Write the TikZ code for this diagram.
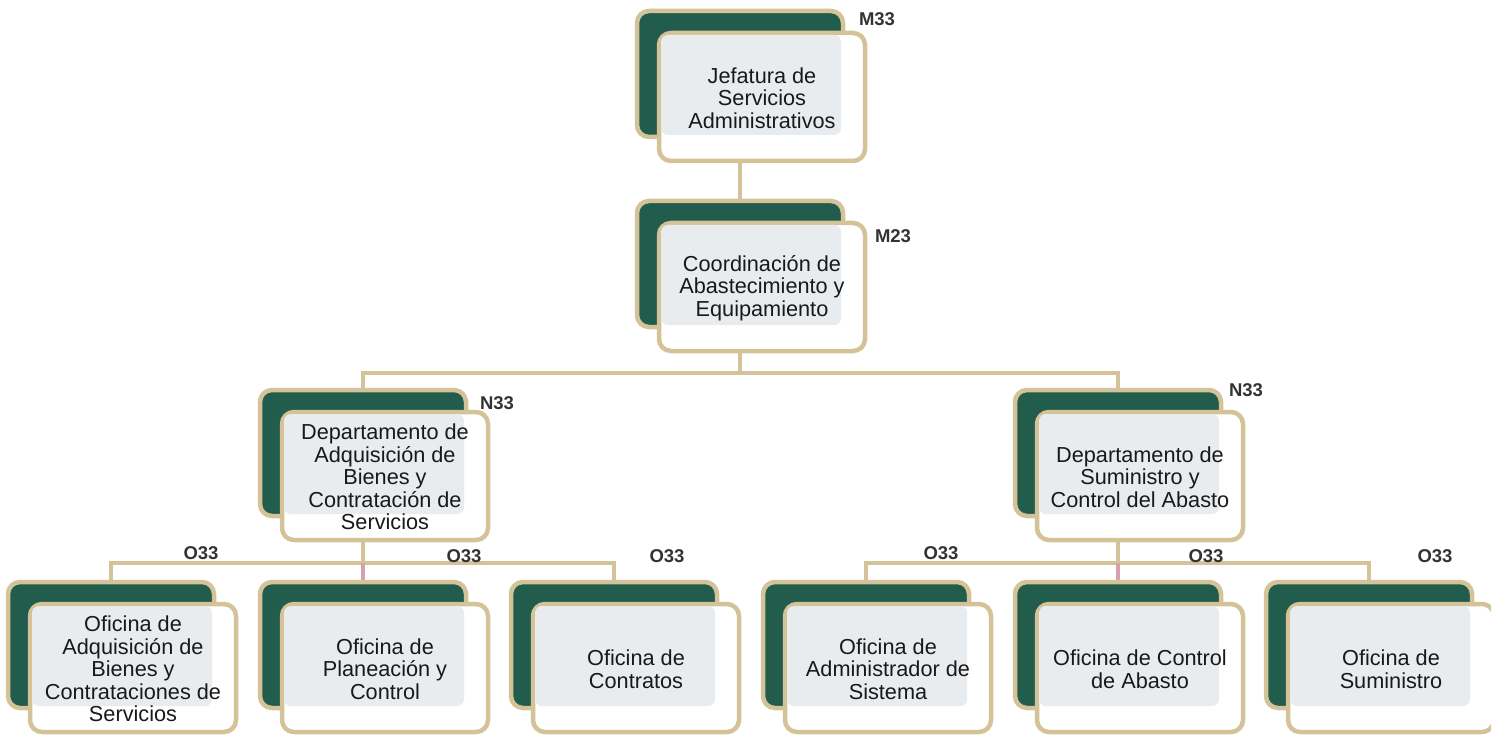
\documentclass[tikz,border=0pt]{standalone}
\usepackage{fontspec}
\setmainfont{Liberation Sans}
\usetikzlibrary{calc}
\definecolor{dkgreen}{RGB}{34,92,76}
\definecolor{tan}{RGB}{212,195,152}
\definecolor{pale}{RGB}{233,236,239}
\definecolor{pinkish}{RGB}{216,160,168}
\definecolor{lbl}{RGB}{51,51,51}
\pgfdeclarelayer{background}
\pgfsetlayers{background,main}
\tikzset{
  backbox/.style={draw=tan, line width=4.5pt, fill=dkgreen, rounded corners=12pt,
    minimum width=206pt, minimum height=126pt, inner sep=0pt},
  frontbox/.style={draw=tan, line width=4.5pt, fill=white, rounded corners=12pt,
    minimum width=206pt, minimum height=128pt, inner sep=0pt},
  grayfill/.style={fill=pale, rounded corners=7pt},
  txt/.style={align=center, text=black!90, font=\fontsize{21.7}{22.5}\selectfont, inner sep=0pt},
  lvl/.style={text=lbl, font=\bfseries\fontsize{18.5}{19}\selectfont, inner sep=0pt},
  conn/.style={draw=tan, line width=4.5pt},
  pconn/.style={draw=pinkish, line width=4.5pt}
}
% #1 name, #2 x0, #3 y0, #4 text
\newcommand\orgunit[4]{%
  \node[backbox] (#1b) at (#2+105,#3+65) {};
  \node[frontbox] (#1f) at (#2+127,#3+88) {};
  \fill[grayfill] (#2+26,#3+26) rectangle (#2+206,#3+126);
  \node[txt] (#1) at (#2+127,#3+89) {#4};
}
\begin{document}
\begin{tikzpicture}[x=1pt,y=-1pt]
\useasboundingbox (0,0) rectangle (1491,735);
\orgunit{A}{635}{9}{Jefatura de\\Servicios\\Administrativos}
\orgunit{B}{635}{199}{Coordinación de\\Abastecimiento y\\Equipamiento}
\orgunit{C}{258}{388}{Departamento de\\Adquisición de\\Bienes y\\Contratación de\\Servicios}
\orgunit{D}{1013}{388}{Departamento de\\Suministro y\\Control del Abasto}
\orgunit{E1}{6}{580}{Oficina de\\Adquisición de\\Bienes y\\Contrataciones de\\Servicios}
\orgunit{E2}{258}{580}{Oficina de\\Planeación y\\Control}
\orgunit{E3}{509}{580}{Oficina de\\Contratos}
\orgunit{E4}{761}{580}{Oficina de\\Administrador de\\Sistema}
\orgunit{E5}{1013}{580}{Oficina de Control\\de Abasto}
\orgunit{E6}{1264}{580}{Oficina de\\Suministro}

\node[lvl] (lA) at (877,19) {M33};
\node[lvl] (lB) at (893,236) {M23};
\node[lvl] (lC) at (497,403) {N33};
\node[lvl] (lD) at (1246,390) {N33};
\node[lvl] (l1) at (201,553) {O33};
\node[lvl] (l2) at (464,556) {O33};
\node[lvl] (l3) at (667,556) {O33};
\node[lvl] (l4) at (941,553) {O33};
\node[lvl] (l5) at (1206,556) {O33};
\node[lvl] (l6) at (1435,556) {O33};

\coordinate (bus1) at (740,373);
\coordinate (bus2) at (363,563);
\coordinate (bus3) at (1118,563);
\begin{pgfonlayer}{background}
\draw[conn] (Ab.south) -- (Bb.north);
\draw[conn] (Bb.south) -- (bus1) -| (Cb.north);
\draw[conn] (bus1) -| (Db.north);
\draw[conn] (Cb.south) -- (bus2) -| (E1b.north);
\draw[conn] (bus2) -| (E3b.north);
\draw[conn] (Db.south) -- (bus3) -| (E4b.north);
\draw[conn] (bus3) -| (E6b.north);
\draw[pconn] (bus2) -- (E2b.north);
\draw[pconn] (bus3) -- (E5b.north);
\end{pgfonlayer}
\end{tikzpicture}
\end{document}
